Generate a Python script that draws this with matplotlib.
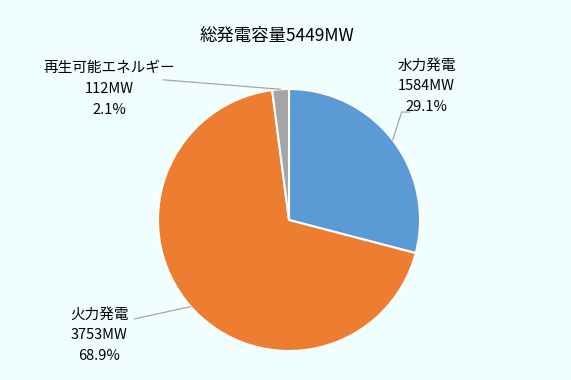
import numpy as np
import matplotlib.pyplot as plt

plt.rcParams['font.family'] = ['Noto Sans CJK JP', 'DejaVu Sans']

# data
labels = ["水力発電", "火力発電", "再生可能エネルギー"]
values = [1584, 3753, 112]
colors = ["#5B9BD5", "#ED7D31", "#A5A5A5"]
title = "総発電容量5449MW"

# label text positions (data coords, pie radius = 1)
label_pos = [(1.05, 1.02), (-1.45, -0.88), (-1.37, 1.00)]
# leader line points from the label side
line_start = [[(0.92, 0.824), (0.86, 0.824)],
              [(-1.18, -0.755)],
              [(-0.96, 1.07)]]

bg = "#F0FEFE"
fig = plt.figure(figsize=(5.71, 3.80), dpi=100, facecolor=bg)

# pie centre at (289, 220) px, radius ~131 px
cx, cy, r = 289, 220, 131
W, H = 571, 380
ax = fig.add_axes([(cx - r) / W, (H - cy - r) / H, 2 * r / W, 2 * r / H])
ax.set_facecolor(bg)

wedges, _ = ax.pie(values, colors=colors, startangle=90, counterclock=False,
                   wedgeprops=dict(edgecolor="white", linewidth=1.5))
ax.set_xlim(-1, 1)
ax.set_ylim(-1, 1)

total = sum(values)
for w, lab, v, pos, st in zip(wedges, labels, values, label_pos, line_start):
    ang = np.deg2rad((w.theta1 + w.theta2) / 2)
    pts = st + [(np.cos(ang), np.sin(ang))]
    ax.plot([p[0] for p in pts], [p[1] for p in pts], color="#A6A6A6",
            lw=0.9, clip_on=False)
    txt = f"{lab}\n{v}MW\n{v / total * 100:.1f}%"
    ax.text(pos[0], pos[1], txt, ha="center", va="center", fontsize=10.5,
            linespacing=1.6, color="#000000", clip_on=False)

fig.text(277 / W, 1 - 36 / H, title, ha="center", va="center", fontsize=12.5)

fig.savefig("out.png", dpi=100, facecolor=bg)
